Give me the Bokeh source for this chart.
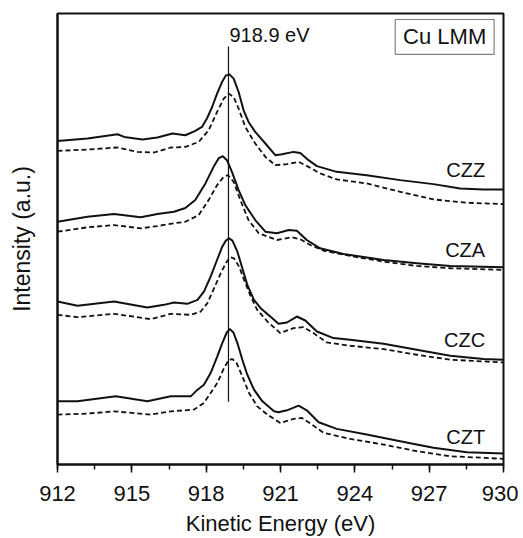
from bokeh.plotting import figure
from bokeh.models import Range1d, SingleIntervalTicker, FixedTicker
from bokeh.core.properties import value
from bokeh.embed import file_html
from bokeh.resources import INLINE

# ---------------- data (kinetic energy in eV, intensity in a.u., stacked offsets) -------------
czz_solid_e = [912.00, 913.21, 914.42, 914.69, 915.43, 916.03, 916.64, 917.16, 917.56, 917.83, 918.03, 918.24,
               918.44, 918.64, 918.80, 918.94, 919.11, 919.31, 919.51, 919.71, 919.98, 920.39, 920.79, 921.06,
               921.53, 921.80, 922.13, 922.47, 923.27, 924.48, 925.83, 927.17, 928.25, 929.19, 930.00]
czz_solid_i = [324.3, 326.7, 331.0, 328.3, 325.7, 327.7, 331.7, 330.0, 334.3, 338.3, 346.7, 358.3,
               371.7, 383.3, 390.0, 391.0, 386.7, 373.3, 355.0, 343.3, 333.3, 321.7, 310.0, 311.0,
               313.3, 312.3, 305.0, 299.0, 293.3, 290.0, 285.0, 281.0, 276.7, 275.7, 275.7]

czz_dash_e = [912.00, 913.21, 914.42, 915.23, 915.90, 916.57, 917.16, 917.70, 918.10, 918.44, 918.71, 918.91,
              919.11, 919.31, 919.58, 919.98, 920.39, 920.79, 921.26, 921.73, 922.13, 922.60, 923.27, 924.48,
              925.83, 927.17, 928.52, 930.00]
czz_dash_i = [314.3, 315.7, 317.7, 313.3, 312.7, 317.7, 318.3, 323.3, 335.0, 353.3, 366.7, 371.7,
              368.3, 356.7, 338.3, 321.7, 308.3, 300.0, 301.0, 303.3, 298.3, 291.7, 285.7, 281.7,
              273.3, 265.7, 262.3, 261.0]

cza_solid_e = [912.00, 913.21, 914.28, 915.36, 916.03, 916.70, 917.16, 917.56, 917.97, 918.30, 918.50, 918.67,
               918.84, 919.04, 919.31, 919.58, 919.98, 920.39, 920.86, 921.33, 921.66, 922.06, 922.60, 923.54,
               925.16, 926.50, 927.85, 930.00]
cza_solid_i = [243.3, 248.3, 251.0, 247.7, 251.0, 253.3, 257.0, 265.0, 281.7, 298.3, 306.7, 309.0,
               305.0, 293.3, 275.0, 260.0, 245.0, 233.3, 231.7, 235.0, 234.3, 225.0, 216.7, 211.0,
               205.0, 201.7, 199.0, 197.7]

cza_dash_e = [912.00, 913.21, 914.28, 915.36, 916.03, 916.70, 917.16, 917.70, 918.10, 918.44, 918.71, 918.88,
              919.11, 919.38, 919.71, 920.12, 920.86, 921.46, 921.80, 922.20, 922.74, 923.81, 925.16, 926.50,
              927.85, 930.00]
cza_dash_i = [233.3, 237.7, 240.0, 236.7, 239.0, 241.7, 243.3, 250.0, 265.0, 280.0, 288.3, 290.0,
              283.3, 265.0, 245.0, 231.7, 225.0, 227.7, 225.7, 220.0, 214.3, 209.0, 203.3, 199.0,
              196.7, 195.0]

czc_solid_e = [912.00, 912.81, 914.28, 915.63, 916.30, 916.70, 917.24, 917.65, 917.91, 918.18, 918.45, 918.65,
               918.79, 918.92, 919.06, 919.26, 919.46, 919.66, 919.93, 920.20, 920.60, 920.92, 921.26, 921.66,
               922.00, 922.47, 923.14, 923.81, 925.16, 926.50, 927.85, 929.19, 930.00]
czc_solid_i = [163.3, 159.0, 163.3, 157.3, 160.0, 162.3, 161.0, 165.0, 173.3, 188.3, 205.7, 218.3,
               224.3, 226.7, 224.3, 213.3, 196.7, 180.0, 165.0, 156.7, 148.0, 141.0, 142.3, 148.3,
               144.3, 133.3, 126.7, 125.0, 121.0, 115.0, 109.0, 105.7, 105.0]

czc_dash_e = [912.00, 912.81, 914.28, 915.76, 916.57, 917.38, 917.78, 918.05, 918.32, 918.59, 918.79, 918.96,
              919.12, 919.33, 919.53, 919.80, 920.06, 920.47, 920.99, 921.53, 921.93, 922.33, 922.87, 923.81,
              925.16, 926.50, 927.85, 930.00]
czc_dash_i = [150.0, 147.7, 151.0, 145.7, 151.0, 150.0, 153.3, 161.7, 176.7, 191.7, 201.7, 207.7,
              206.7, 198.3, 185.0, 168.3, 155.0, 143.3, 131.7, 136.7, 137.7, 131.7, 122.3, 119.0,
              115.7, 110.0, 105.0, 102.3]

czt_solid_e = [912.00, 912.81, 914.35, 915.63, 916.57, 917.38, 917.65, 917.91, 918.18, 918.45, 918.65, 918.83,
               918.96, 919.10, 919.26, 919.46, 919.66, 919.93, 920.27, 920.74, 920.92, 921.26, 921.73, 922.06,
               922.54, 923.27, 924.48, 925.83, 927.17, 928.52, 930.00]
czt_solid_i = [63.3, 63.3, 68.3, 63.3, 68.3, 68.3, 75.0, 80.0, 91.7, 108.3, 121.7, 132.3,
               135.7, 132.3, 121.7, 105.0, 90.0, 75.0, 63.3, 53.3, 52.3, 54.3, 59.0, 54.3,
               42.3, 35.7, 30.0, 23.3, 16.7, 12.3, 11.0]

czt_dash_e = [912.00, 913.21, 914.28, 915.76, 916.57, 917.51, 917.91, 918.18, 918.45, 918.72, 918.92, 919.06,
              919.23, 919.46, 919.73, 920.06, 920.47, 920.99, 921.53, 921.86, 922.27, 922.74, 923.81, 925.16,
              926.50, 927.85, 929.19, 930.00]
czt_dash_i = [50.0, 51.0, 53.3, 50.0, 53.3, 55.0, 61.7, 71.7, 81.7, 96.7, 105.0, 105.7,
              101.7, 88.3, 71.7, 58.3, 50.0, 41.7, 45.7, 46.7, 40.0, 31.7, 25.7, 20.0,
              13.3, 8.3, 6.7, 5.7]

sample_names = ["CZZ", "CZA", "CZC", "CZT"]
sample_label_e = [929.26, 929.26, 929.26, 929.26]
sample_label_i = [295.0, 215.0, 125.0, 28.0]

peak_energy = [918.9]
peak_line_bottom = [63.0]
peak_line_top = [419.0]
peak_label = ["918.9 eV"]

legend_text = ["Cu LMM"]
legend_left, legend_right = [925.63], [929.62]
legend_bottom, legend_top = [411.0], [446.0]

x_ticks_start, x_ticks_end, x_tick_step = 912, 930, 3

# ---------------- figure ----------------
FONT = "Liberation Sans"
INK = "#111111"

p = figure(width=518, height=538, output_backend="svg", toolbar_location=None,
           x_range=Range1d(x_ticks_start, x_ticks_end), y_range=Range1d(0, 452),
           min_border_left=57, min_border_right=15, min_border_top=13, min_border_bottom=73)
p.background_fill_color = "white"
p.border_fill_color = "white"
p.outline_line_color = INK
p.outline_line_width = 2
p.xgrid.visible = False
p.ygrid.visible = False

series = [
    (czz_solid_e, czz_solid_i, "solid"), (czz_dash_e, czz_dash_i, "dashed"),
    (cza_solid_e, cza_solid_i, "solid"), (cza_dash_e, cza_dash_i, "dashed"),
    (czc_solid_e, czc_solid_i, "solid"), (czc_dash_e, czc_dash_i, "dashed"),
    (czt_solid_e, czt_solid_i, "solid"), (czt_dash_e, czt_dash_i, "dashed"),
]
for e, i, style in series:
    if style == "solid":
        p.line(e, i, line_color=INK, line_width=2.0, line_join="round")
    else:
        p.line(e, i, line_color=INK, line_width=1.8, line_dash="5 3", line_join="round")

# peak position marker
p.segment(x0=peak_energy, y0=peak_line_bottom, x1=peak_energy, y1=peak_line_top,
          line_color=INK, line_width=1.2)
p.text(x=peak_energy, y=peak_line_top, text=peak_label, x_offset=1,
       text_font=value(FONT), text_font_size=value("20px"), text_color=INK,
       text_align="left", text_baseline="bottom")

# sample labels
p.text(x=sample_label_e, y=sample_label_i, text=sample_names,
       text_font=value(FONT), text_font_size=value("20px"), text_color=INK,
       text_align="right", text_baseline="middle")

# "Cu LMM" box
p.quad(left=legend_left, right=legend_right, bottom=legend_bottom, top=legend_top,
       fill_color="white", line_color="#808080", line_width=1.2)
p.text(x=[(legend_left[0] + legend_right[0]) / 2], y=[(legend_bottom[0] + legend_top[0]) / 2],
       text=legend_text, text_font=value(FONT), text_font_size=value("22px"), text_color=INK,
       text_align="center", text_baseline="middle")

# axes
xa = p.xaxis[0]
xa.ticker = SingleIntervalTicker(interval=x_tick_step, num_minor_ticks=2)
xa.axis_label = "Kinetic Energy (eV)"
xa.axis_label_text_font = FONT
xa.axis_label_text_font_size = "22px"
xa.axis_label_text_font_style = "normal"
xa.axis_label_text_color = INK
xa.axis_label_standoff = 7
xa.major_label_text_font = FONT
xa.major_label_text_font_size = "22px"
xa.major_label_text_color = INK
xa.major_label_standoff = 13
xa.axis_line_width = 2
xa.axis_line_color = INK
xa.major_tick_in = 0
xa.major_tick_out = 8
xa.minor_tick_in = 0
xa.minor_tick_out = 5
xa.major_tick_line_width = 1.5
xa.minor_tick_line_width = 1.5
xa.major_tick_line_color = INK
xa.minor_tick_line_color = INK

ya = p.yaxis[0]
ya.ticker = FixedTicker(ticks=[])
ya.axis_label = "Intensity (a.u.)"
ya.axis_label_text_font = FONT
ya.axis_label_text_font_size = "23px"
ya.axis_label_text_font_style = "normal"
ya.axis_label_text_color = INK
ya.axis_label_standoff = 23
ya.axis_line_width = 2
ya.axis_line_color = INK
ya.major_tick_out = 0
ya.major_tick_in = 0
ya.minor_tick_out = 0
ya.minor_tick_in = 0

open("out.html", "w").write(file_html(p, INLINE))
